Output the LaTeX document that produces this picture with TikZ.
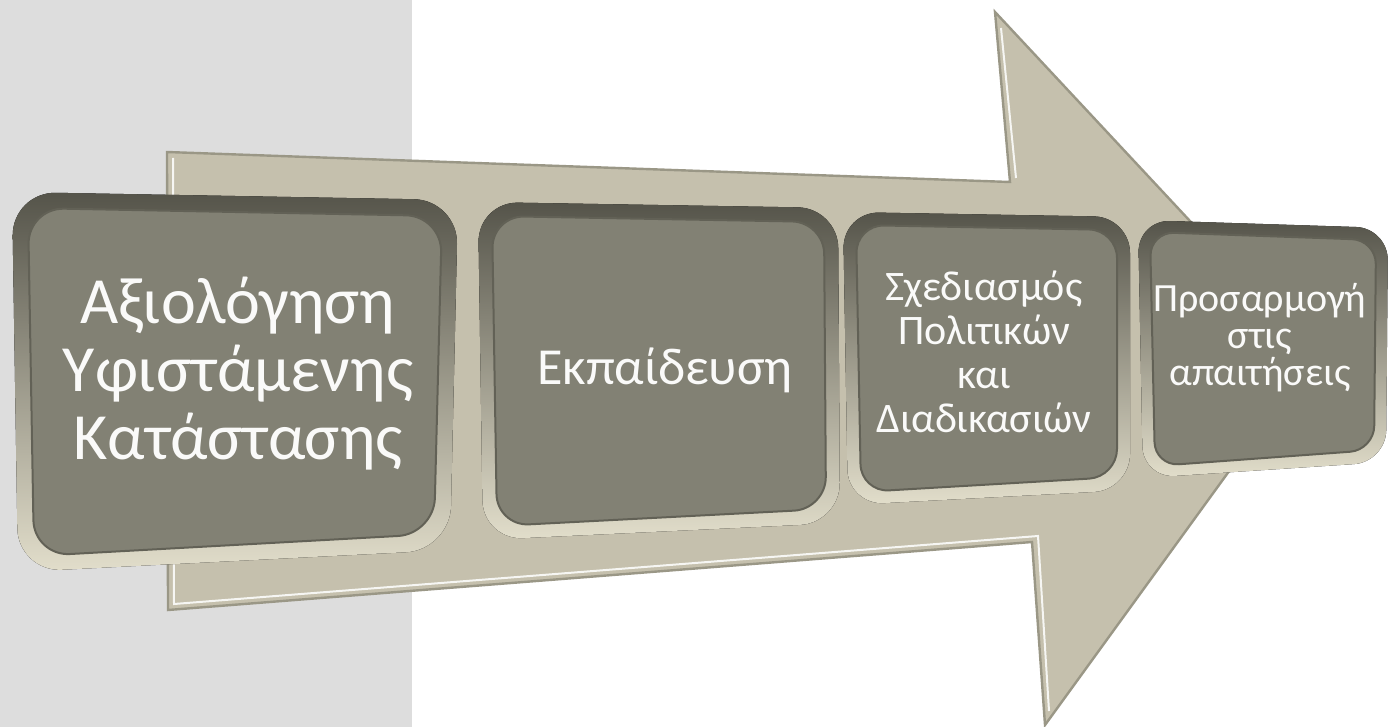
\documentclass[tikz,border=0pt]{standalone}
\usepackage{fontspec}
\setmainfont{Carlito}
\usetikzlibrary{calc}
\definecolor{band}{HTML}{DDDDDD}
\definecolor{arrowfill}{HTML}{C5C0AD}
\definecolor{arrowedge}{HTML}{9A9786}
\definecolor{rimtop}{HTML}{55544A}
\definecolor{rimbot}{HTML}{E2DECB}
\definecolor{facecol}{HTML}{828174}
\definecolor{faceedge}{HTML}{626156}
\tikzset{
  rim/.style={top color=rimtop, bottom color=rimbot},
  face/.style={fill=facecol, draw=faceedge, line width=1pt},
  arrowbody/.style={fill=arrowfill, draw=arrowedge, line width=1.2pt, line join=miter},
  lbl/.style={text=white!96!facecol, align=center, inner sep=0pt}
}
\newcommand\bevbox[7]{%
  \fill[rim, rounded corners=#6] (#1) -- (#2) -- (#3) -- (#4) -- cycle;
  \path[face, rounded corners=#7] ($(#1)+(#5,#5)$) -- ($(#2)+(-#5,#5)$) -- ($(#3)+(-#5,-#5)$) -- ($(#4)+(#5,-#5)$) -- cycle;
}
\begin{document}
\begin{tikzpicture}[x=0.5pt,y=-0.5pt]
\useasboundingbox (0,0) rectangle (1391,727);
\fill[white] (0,0) rectangle (1391,727);
\fill[band] (0,0) rectangle (412,727);
% big arrow
\coordinate (a1) at (167,152);
\coordinate (a2) at (1010,182);
\coordinate (a3) at (995,12);
\coordinate (a4) at (1314,354);
\coordinate (a5) at (1045,725);
\coordinate (a6) at (1032,542);
\coordinate (a7) at (168,610);
\path[arrowbody] (a1) -- (a2) -- (a3) -- (a4) -- (a5) -- (a6) -- (a7) -- cycle;
\draw[white!85!arrowfill, line width=1pt] ($(a1)+(6,6)$) -- ($(a7)+(6,-6)$) -- ($(a6)+(6,-6)$) -- ($(a5)+(4,-14)$);
\draw[white!85!arrowfill, line width=1pt] ($(a2)+(6,-4)$) -- ($(a3)+(6,16)$);
% boxes
\bevbox{12,192}{458,200}{450,550}{18,572}{16}{22pt}{18pt}
\bevbox{478,202}{838,208}{840,523}{483,540}{14}{20pt}{16pt}
\bevbox{843,212}{1130,217}{1130,490}{848,505}{13}{18pt}{14pt}
\bevbox{1138,220}{1388,228}{1386,462}{1143,478}{12}{16pt}{12pt}
% labels
\node[lbl, font=\fontsize{33}{34}\selectfont] (t1) at (238,374) {Αξιολόγηση\\Υφιστάμενης\\Κατάστασης};
\node[lbl, font=\fontsize{26}{30}\selectfont] (t2) at (665,370) {Εκπαίδευση};
\node[lbl, font=\fontsize{21}{22}\selectfont] (t3) at (984,352) {Σχεδιασμός\\Πολιτικών\\και\\Διαδικασιών};
\node[lbl, font=\fontsize{20}{18.5}\selectfont] (t4) at (1260,338) {Προσαρμογή\\στις\\απαιτήσεις};
\end{tikzpicture}
\end{document}
